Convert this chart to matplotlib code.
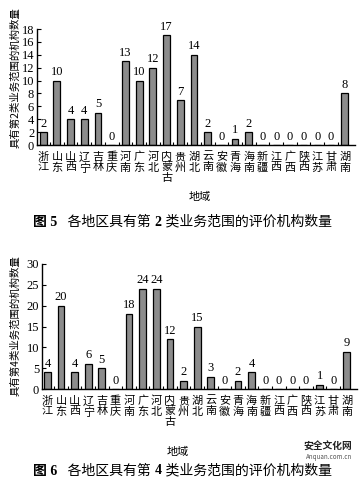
import matplotlib
matplotlib.use('Agg')
import matplotlib.pyplot as plt
import numpy as np

plt.rcParams['font.family'] = ['Liberation Serif', 'Noto Sans CJK SC']

# Data
regions = ['浙江', '山东', '山西', '辽宁', '吉林', '重庆', '河南', '广东', '河北',
           '内蒙古', '贵州', '湖北', '云南', '安徽', '青海', '海南', '新疆', '江西',
           '广西', '陕西', '江苏', '甘肃', '湖南']
counts_type2 = [2, 10, 4, 4, 5, 0, 13, 10, 12, 17, 7, 14, 2, 0, 1, 2, 0, 0, 0, 0, 0, 0, 8]
counts_type4 = [4, 20, 4, 6, 5, 0, 18, 24, 24, 12, 2, 15, 3, 0, 2, 4, 0, 0, 0, 0, 1, 0, 9]

W, H = 364, 479
fig = plt.figure(figsize=(W / 100, H / 100), dpi=100)
fig.patch.set_facecolor('white')

CJK = ['Noto Sans CJK SC', 'DejaVu Sans']
MIX = ['Liberation Serif', 'Noto Sans CJK SC']
BAR = '#8c8c8c'


def px_axes(left, top, right, bottom):
    return fig.add_axes([left / W, 1 - bottom / H, (right - left) / W, (bottom - top) / H])


def draw_chart(ax, values, ymax, ystep, xlim):
    x = np.arange(len(values))
    ax.bar(x, values, width=0.5, color=BAR, edgecolor='black', linewidth=0.9)
    for xi, v in zip(x, values):
        ax.text(xi, v + ymax * 0.02, str(v), ha='center', va='bottom',
                fontsize=9, family=MIX)
    ax.set_xlim(*xlim)
    ax.set_ylim(0, ymax)
    ax.set_yticks(np.arange(0, ymax + 1, ystep))
    ax.tick_params(axis='y', direction='in', length=3, width=0.8, labelsize=9, pad=2)
    ax.set_xticks(x)
    ax.set_xticklabels(['\n'.join(r) for r in regions], family=CJK, fontsize=8,
                       linespacing=1.05, va='top')
    ax.tick_params(axis='x', length=0, pad=5)
    ax.set_xticks(x[:-1] + 0.5, minor=True)
    ax.tick_params(axis='x', which='minor', direction='in', length=2, width=0.8)
    for s in ['top', 'right']:
        ax.spines[s].set_visible(False)
    for s in ['left', 'bottom']:
        ax.spines[s].set_linewidth(1.0)


def caption(x, y, parts, size=10):
    r = fig.canvas.get_renderer()
    cur = x
    for txt, bold in parts:
        t = fig.text(cur / W, 1 - y / H, txt, ha='left', va='center', fontsize=size,
                     family=MIX, weight='bold' if bold else 'normal')
        bb = t.get_window_extent(renderer=r)
        cur += bb.width


ax1 = px_axes(37, 29, 355, 145)
draw_chart(ax1, counts_type2, 18, 2, (-0.45, 22.75))
ax2 = px_axes(42, 264, 357, 389)
draw_chart(ax2, counts_type4, 30, 5, (-0.4, 22.75))

fig.text(15 / W, 1 - 78 / H, '具有第2类业务范围的机构数量', rotation=90, ha='center',
         va='center', fontsize=7.5, family=CJK)
fig.text(15 / W, 1 - 326 / H, '具有第4类业务范围的机构数量', rotation=90, ha='center',
         va='center', fontsize=7.5, family=CJK)

fig.text(200 / W, 1 - 197 / H, '地域', ha='center', va='center', fontsize=8, family=CJK)
fig.text(178 / W, 1 - 452 / H, '地域', ha='center', va='center', fontsize=8, family=CJK)

caption(33, 222, [('图 5', True), ('   各地区具有第 ', False), ('2', True),
                  (' 类业务范围的评价机构数量', False)])
caption(33, 471, [('图 6', True), ('   各地区具有第 ', False), ('4', True),
                  (' 类业务范围的评价机构数量', False)])

# watermark
fig.text(352 / W, 1 - 447 / H, '安全文化网', ha='right', va='center', fontsize=7,
         family=CJK, weight='bold', color='#222222')
fig.text(352 / W, 1 - 457 / H, 'Anquan.com.cn', ha='right', va='center', fontsize=4.5,
         family=CJK, color='#555555')

fig.savefig('out.png', dpi=100, facecolor='white')
